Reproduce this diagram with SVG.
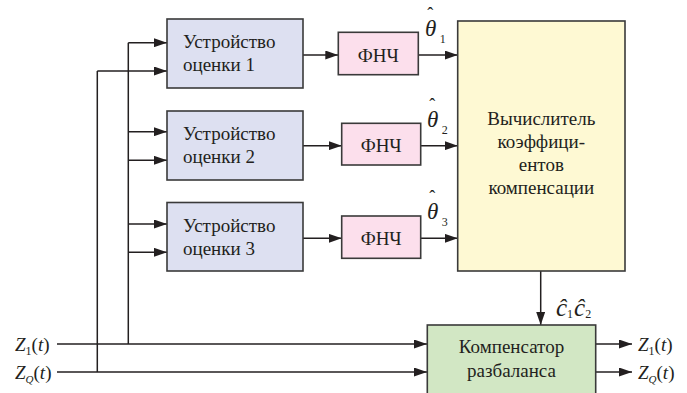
<svg xmlns="http://www.w3.org/2000/svg" width="687" height="393" viewBox="0 0 687 393">
<defs>
<marker id="ah" markerWidth="13" markerHeight="9" refX="13" refY="4.5" orient="auto" markerUnits="userSpaceOnUse">
<path d="M0,0 L13,4.5 L0,9 Z" fill="#231f20"/>
</marker>
<style>
.box{stroke:#3a3a3a;stroke-width:1.6}
.est{fill:#dde0f1}
.lpf{fill:#fcdfec}
.calc{fill:#fef9d3}
.comp{fill:#d2e7c4}
text{font-family:'Liberation Serif','Times New Roman',serif;fill:#231f20}
.t{font-size:19px}
.m{font-style:italic}
.th{font-size:23px;font-style:italic}
.hat{font-size:18px;font-style:normal}
.sub{font-size:12px;font-style:normal}
.ln{stroke:#231f20;stroke-width:1.5;fill:none}
.arr{stroke:#231f20;stroke-width:1.5;fill:none;marker-end:url(#ah)}
</style>
</defs>
<rect width="687" height="393" fill="#ffffff"/>

<g id="connectors">
<path class="arr" d="M57,344 H427"/>
<path class="arr" d="M57,372 H427"/>
<path class="ln" d="M128.3,344 V42.7"/>
<path class="ln" d="M97.3,372 V71"/>
<path class="arr" d="M128.3,42.7 H167"/>
<path class="arr" d="M97.3,71 H167"/>
<path class="arr" d="M128.3,131.7 H167"/>
<path class="arr" d="M128.3,160.3 H167"/>
<path class="arr" d="M128.3,224 H167"/>
<path class="arr" d="M128.3,252.3 H167"/>
<path class="arr" d="M303,55 H338.3"/>
<path class="arr" d="M303,145.7 H341.7"/>
<path class="arr" d="M303,238.3 H341.7"/>
<path class="arr" d="M418.3,55 H457.7"/>
<path class="arr" d="M420.7,145.7 H457.7"/>
<path class="arr" d="M420.7,238.3 H457.7"/>
<path class="arr" d="M540.7,271 V325"/>
<path class="arr" d="M595.7,344 H632"/>
<path class="arr" d="M595.7,372 H632"/>
</g>

<g id="est1">
<rect class="box est" x="167" y="19" width="136" height="69"/>
<text class="t" x="183" y="48">Устройство</text>
<text class="t" x="183" y="71">оценки 1</text>
</g>
<g id="est2">
<rect class="box est" x="167" y="111" width="136" height="69"/>
<text class="t" x="183" y="140">Устройство</text>
<text class="t" x="183" y="163">оценки 2</text>
</g>
<g id="est3">
<rect class="box est" x="167" y="202.5" width="136" height="68.5"/>
<text class="t" x="183" y="231.5">Устройство</text>
<text class="t" x="183" y="254.5">оценки 3</text>
</g>

<g id="lpf1">
<rect class="box lpf" x="338.3" y="32.3" width="80" height="42.4"/>
<text class="t" x="378.3" y="61.5" text-anchor="middle">ФНЧ</text>
</g>
<g id="lpf2">
<rect class="box lpf" x="341.7" y="123.3" width="79" height="41.7"/>
<text class="t" x="381.2" y="152.2" text-anchor="middle">ФНЧ</text>
</g>
<g id="lpf3">
<rect class="box lpf" x="341.7" y="216" width="79" height="42.3"/>
<text class="t" x="381.2" y="245" text-anchor="middle">ФНЧ</text>
</g>

<g id="calc">
<rect class="box calc" x="457.7" y="21" width="167.3" height="250"/>
<text class="t" x="541.3" y="125" text-anchor="middle">Вычислитель</text>
<text class="t" x="541.3" y="148" text-anchor="middle">коэффици-</text>
<text class="t" x="541.3" y="171" text-anchor="middle">ентов</text>
<text class="t" x="541.3" y="194" text-anchor="middle">компенсации</text>
</g>

<g id="comp">
<rect class="box comp" x="427.3" y="325" width="168.4" height="75"/>
<text class="t" x="511.5" y="353" text-anchor="middle">Компенсатор</text>
<text class="t" x="511.5" y="377" text-anchor="middle">разбаланса</text>
</g>

<g id="labels">
<text class="th" x="425" y="36">θ<tspan class="hat" dx="-9" dy="-16">ˆ</tspan><tspan class="sub" dx="6.5" dy="23">1</tspan></text>
<text class="th" x="427" y="127">θ<tspan class="hat" dx="-9" dy="-16">ˆ</tspan><tspan class="sub" dx="6.5" dy="23">2</tspan></text>
<text class="th" x="427" y="219">θ<tspan class="hat" dx="-9" dy="-16">ˆ</tspan><tspan class="sub" dx="6.5" dy="23">3</tspan></text>
<text class="m" x="556" y="316" font-size="25">ĉ<tspan class="sub" dy="2">1</tspan><tspan dy="-2" dx="1">ĉ</tspan><tspan class="sub" dy="2">2</tspan></text>
<text class="m" x="15" y="351" font-size="19">Z<tspan class="sub" font-size="11" dy="4">1</tspan><tspan font-style="normal" dy="-4">(</tspan>t<tspan font-style="normal">)</tspan></text>
<text class="m" x="15" y="379" font-size="19">Z<tspan font-size="11" dy="4">Q</tspan><tspan font-style="normal" dy="-4">(</tspan>t<tspan font-style="normal">)</tspan></text>
<text class="m" x="638" y="351" font-size="19">Z<tspan class="sub" font-size="11" dy="4">1</tspan><tspan font-style="normal" dy="-4">(</tspan>t<tspan font-style="normal">)</tspan></text>
<text class="m" x="638" y="379" font-size="19">Z<tspan font-size="11" dy="4">Q</tspan><tspan font-style="normal" dy="-4">(</tspan>t<tspan font-style="normal">)</tspan></text>
</g>
</svg>
